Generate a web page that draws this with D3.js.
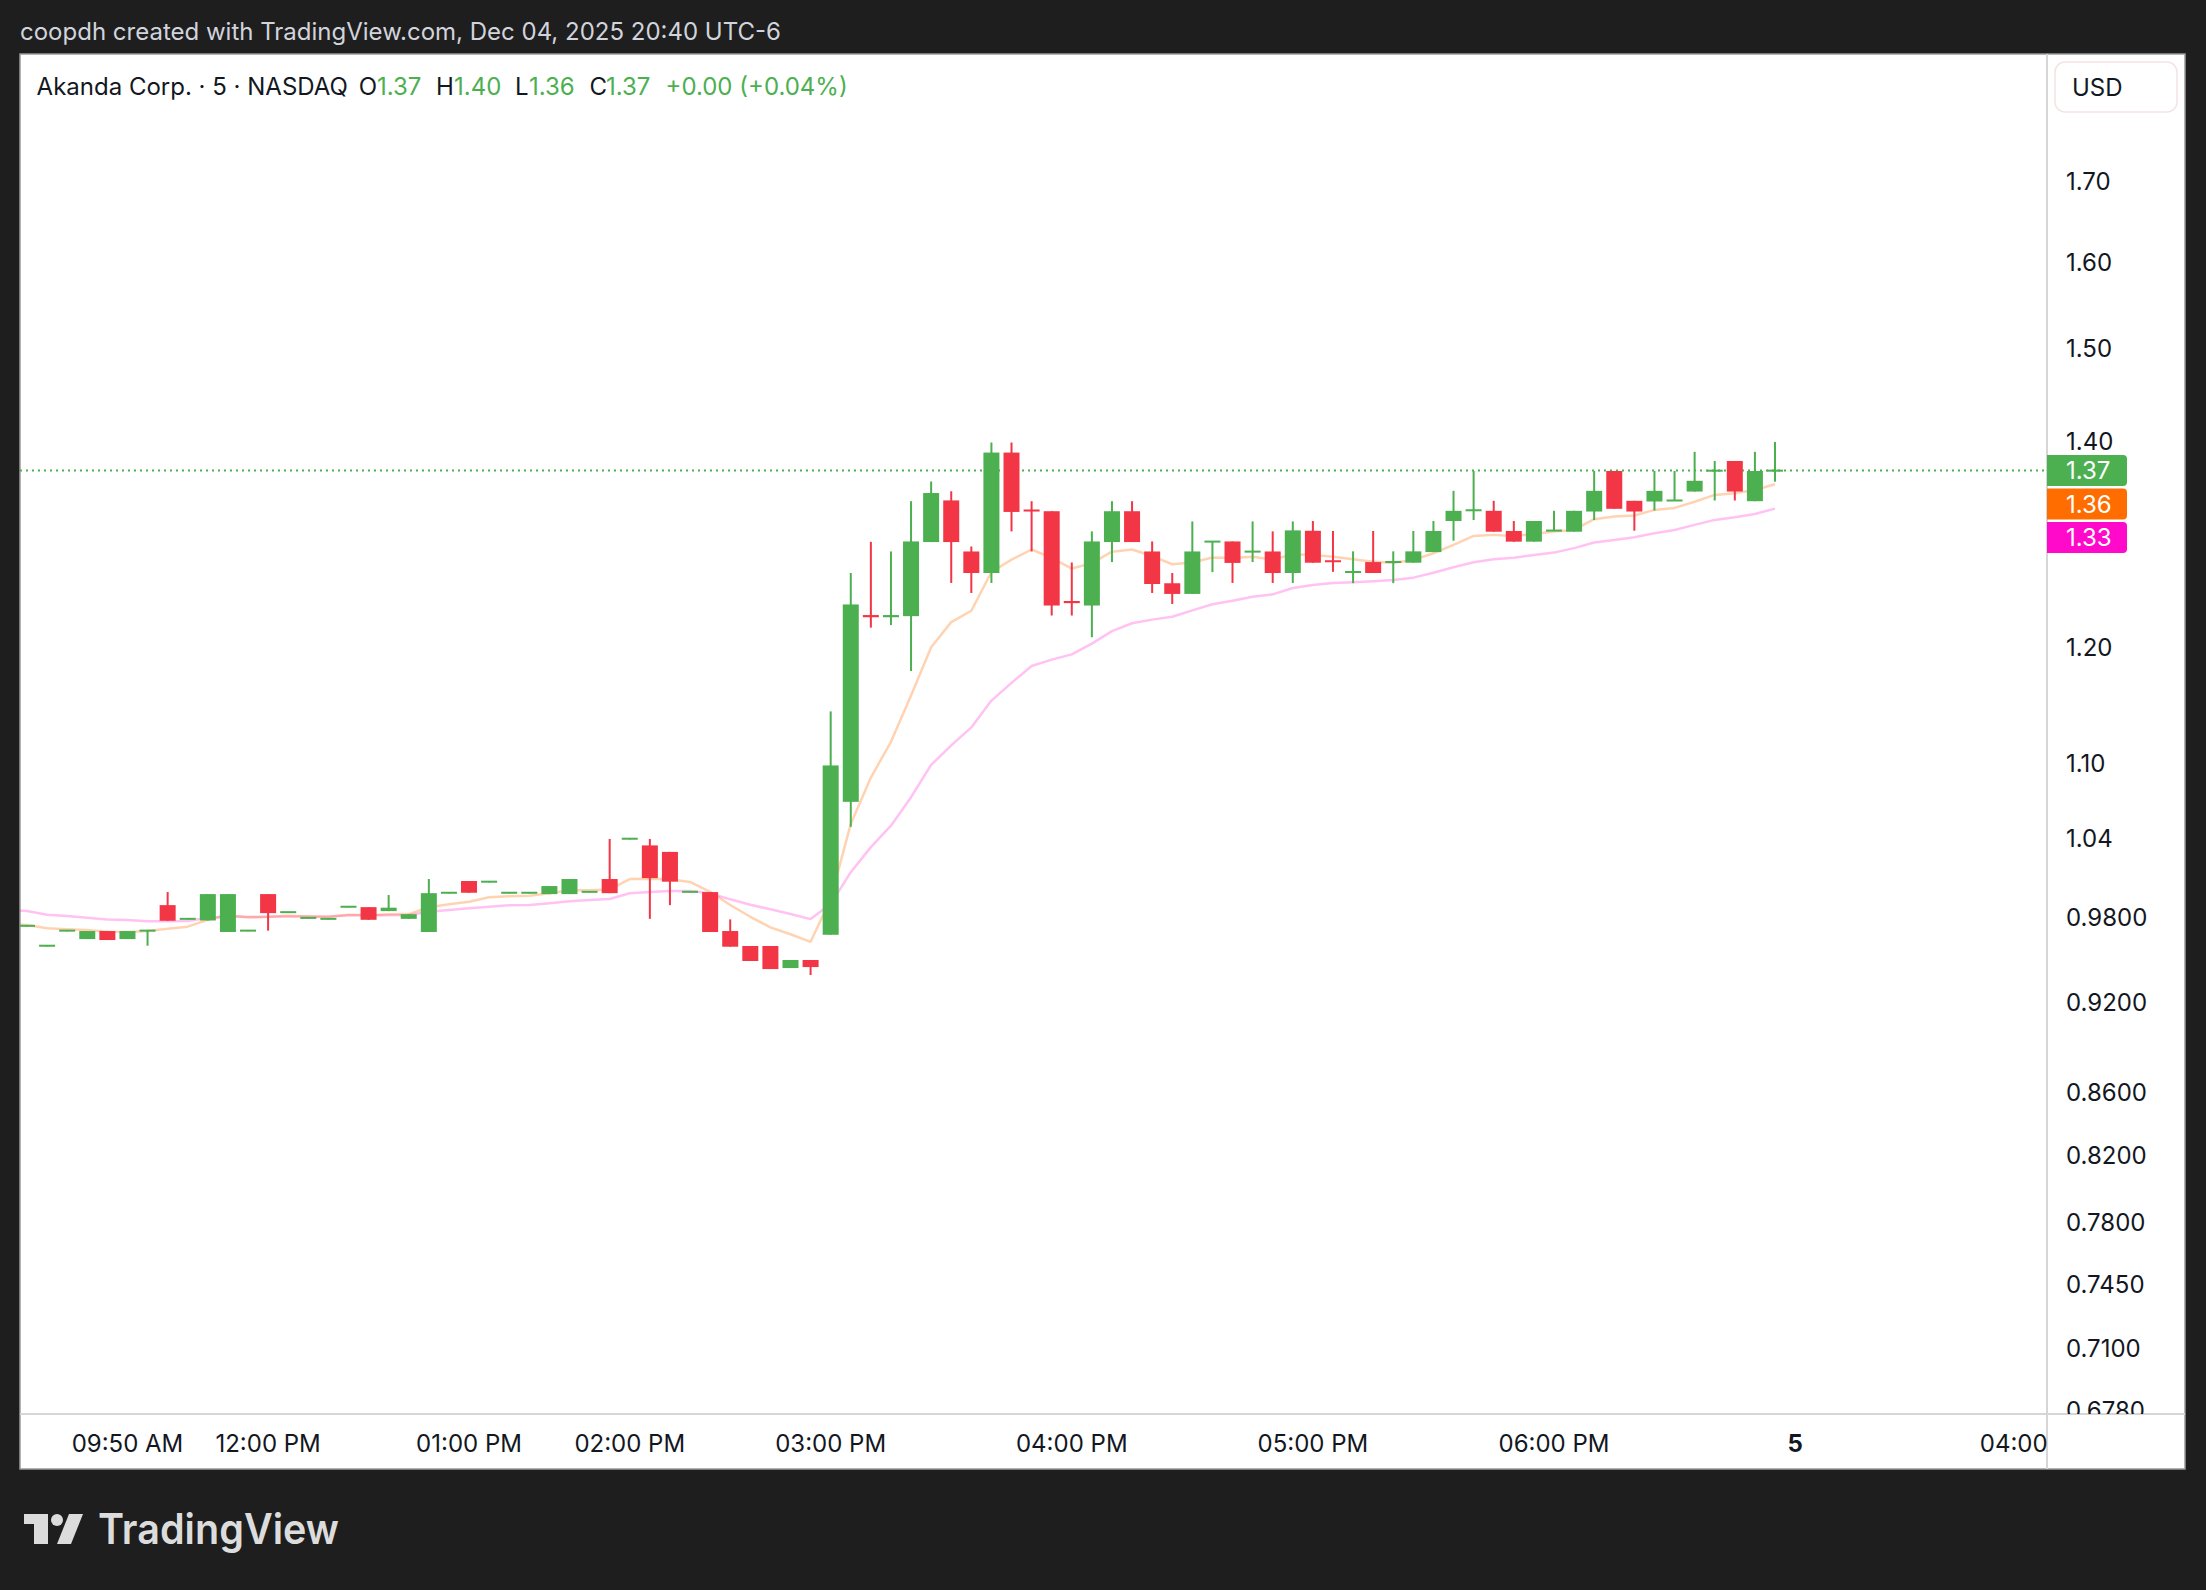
<!DOCTYPE html>
<html><head><meta charset="utf-8">
<script src="https://cdn.jsdelivr.net/npm/d3@7"></script>
<style>
html,body{margin:0;padding:0;background:#1e1e1e;}
svg{display:block;}
text{font-family:Inter,"Noto Sans",sans-serif;}
</style></head><body>
<svg id="chart" width="2206" height="1590"></svg>
<script>
// ---------- DATA ----------
const titleText = "coopdh created with TradingView.com, Dec 04, 2025 20:40 UTC-6";
const symbolText = "Akanda Corp. · 5 · NASDAQ";
const currency = "USD";

const opens = [.9738,.9594,.9703,.9644,.9702,.9644,.9703,.9892,.9789,.9779,
.9695,.9703,.9974,.9838,.9796,.9789,.9878,.9877,.9848,.9791,
.9695,.9982,1.0072,1.0065,.9982,.9982,.9974,.9974,.9989,1.0087,
1.0394,1.0344,1.0294,.9989,.9989,.9702,.9594,.9594,.9437,.9494,
.9675,1.0687,1.2290,1.2270,1.2280,1.2980,1.3391,1.2889,1.2683,1.3879,
1.3300,1.3283,1.2420,1.2378,1.2980,1.3283,1.2889,1.2586,1.2486,1.2983,
1.2986,1.2886,1.2889,1.2683,1.3090,1.2800,1.2690,1.2787,1.2785,1.2781,
1.2883,1.3186,1.3290,1.3287,1.3088,1.2984,1.3090,1.3081,1.3280,1.3689,
1.3387,1.3380,1.3388,1.3480,1.3690,1.3792,1.3383,1.3690];
const highs = [.9742,.9598,.9707,.9702,.9702,.9702,.9707,.9989,.9793,.9974,
.9974,.9707,.9974,.9842,.9800,.9793,.9882,.9877,.9967,.9825,
1.0087,.9986,1.0072,1.0069,.9986,.9986,1.0034,1.0087,.9993,1.0394,
1.0398,1.0394,1.0294,.9993,.9989,.9787,.9594,.9594,.9494,.9494,
1.1435,1.2683,1.2982,1.2889,1.3383,1.3582,1.3483,1.2937,1.3984,1.3984,
1.3383,1.3283,1.2783,1.3084,1.3383,1.3383,1.2986,1.2683,1.3182,1.2986,
1.2986,1.3182,1.3084,1.3182,1.3186,1.3088,1.2890,1.3088,1.2890,1.3088,
1.3186,1.3487,1.3689,1.3387,1.3186,1.3186,1.3287,1.3287,1.3689,1.3689,
1.3387,1.3689,1.3689,1.3887,1.3792,1.3792,1.3887,1.3990];
const lows = [.9738,.9594,.9703,.9644,.9637,.9644,.9596,.9777,.9789,.9779,
.9695,.9703,.9705,.9838,.9796,.9789,.9878,.9784,.9848,.9791,
.9695,.9982,.9984,1.0065,.9982,.9982,.9974,.9974,.9989,.9981,
1.0394,.9791,.9892,.9989,.9695,.9589,.9487,.9430,.9437,.9388,
.9675,1.0489,1.2175,1.2198,1.1786,1.2980,1.2589,1.2495,1.2589,1.3084,
1.2889,1.2286,1.2286,1.2088,1.2787,1.2980,1.2495,1.2392,1.2486,1.2691,
1.2589,1.2787,1.2589,1.2589,1.2781,1.2694,1.2587,1.2683,1.2587,1.2781,
1.2883,1.2993,1.3196,1.3081,1.2984,1.2984,1.3090,1.3081,1.3196,1.3307,
1.3091,1.3290,1.3388,1.3480,1.3390,1.3390,1.3383,1.3580];
const closes = [.9742,.9598,.9707,.9702,.9637,.9702,.9707,.9777,.9793,.9974,
.9974,.9707,.9833,.9842,.9800,.9793,.9882,.9784,.9873,.9825,
.9981,.9986,.9984,1.0069,.9986,.9986,1.0034,1.0087,.9993,.9981,
1.0398,1.0094,1.0067,.9993,.9695,.9589,.9487,.9430,.9494,.9444,
1.0982,1.2388,1.2270,1.2290,1.2986,1.3465,1.2980,1.2683,1.3879,1.3276,
1.3280,1.2378,1.2400,1.2986,1.3283,1.2980,1.2579,1.2486,1.2889,1.2986,
1.2779,1.2889,1.2683,1.3094,1.2781,1.2790,1.2695,1.2683,1.2790,1.2890,
1.3088,1.3287,1.3295,1.3081,1.2984,1.3186,1.3094,1.3287,1.3487,1.3307,
1.3280,1.3487,1.3392,1.3589,1.3694,1.3480,1.3689,1.3695];

// moving averages, first value belongs to the bar just left of the visible range (index -1)
const maFirstIndex = -1;
const emaFast = [0.9757, 0.9746,0.9722,0.9715,0.9710,0.9697,0.9695,0.9702,0.9719,0.9734,0.9784,
0.9817,0.9802,0.9806,0.9814,0.9809,0.9804,0.9821,0.9817,0.9824,0.9826,
0.9876,0.9898,0.9917,0.9950,0.9958,0.9962,0.9980,1.0002,1.0002,1.0009,
1.0087,1.0090,1.0085,1.0065,0.9991,0.9893,0.9806,0.9729,0.9679,0.9624,
0.9938,1.0512,1.0883,1.1178,1.1573,1.1998,1.2225,1.2330,1.2692,1.2811,
1.2908,1.2827,1.2725,1.2777,1.2887,1.2908,1.2845,1.2766,1.2783,1.2831,
1.2827,1.2838,1.2811,1.2861,1.2856,1.2839,1.2814,1.2791,1.2781,1.2807,
1.2872,1.2953,1.3040,1.3050,1.3040,1.3059,1.3082,1.3098,1.3204,1.3230,
1.3240,1.3296,1.3316,1.3378,1.3446,1.3463,1.3496,1.3554];
const emaSlow = [0.9856, 0.9849,0.9821,0.9812,0.9799,0.9787,0.9782,0.9773,0.9773,0.9775,0.9799,
0.9809,0.9804,0.9806,0.9809,0.9809,0.9809,0.9817,0.9817,0.9817,0.9819,
0.9843,0.9856,0.9869,0.9880,0.9891,0.9893,0.9906,0.9920,0.9930,0.9937,
0.9980,0.9989,0.9997,0.9997,0.9980,0.9935,0.9895,0.9861,0.9826,0.9789,
0.9900,1.0139,1.0331,1.0498,1.0724,1.0986,1.1148,1.1299,1.1528,1.1682,
1.1830,1.1887,1.1934,1.2030,1.2143,1.2215,1.2248,1.2274,1.2333,1.2390,
1.2423,1.2459,1.2482,1.2541,1.2570,1.2589,1.2596,1.2605,1.2617,1.2639,
1.2686,1.2738,1.2785,1.2814,1.2829,1.2856,1.2878,1.2921,1.2975,1.3001,
1.3027,1.3066,1.3098,1.3148,1.3197,1.3224,1.3256,1.3309];

const priceTicks = [1.70,1.60,1.50,1.40,1.20,1.10,1.04,0.98,0.92,0.86,0.82,0.78,0.745,0.71,0.678];
const priceTickLabels = ["1.70","1.60","1.50","1.40","1.20","1.10","1.04","0.9800","0.9200","0.8600","0.8200","0.7800","0.7450","0.7100","0.6780"];

const timeTickBars = [5,12,22,30,40,52,64,76,88,100];
const timeTickLabels = ["09:50 AM","12:00 PM","01:00 PM","02:00 PM","03:00 PM","04:00 PM","05:00 PM","06:00 PM","5","04:00 AM"];
const timeTickBold = [false,false,false,false,false,false,false,false,true,false];

// ---------- STYLE ----------
const UP = "#4caf50", DOWN = "#f23645";
const FAST_COLOR = "#ff6d00", SLOW_COLOR = "#ff0acb";
const TEXT = "#131722";

const W = 2206, H = 1590;
const pane = {left:20, right:2047, top:54, bottom:1414};
const panel = {left:20, right:2185, top:54, bottom:1469};

const svg = d3.select("#chart");
svg.append("rect").attr("width",W).attr("height",H).attr("fill","#1e1e1e");

svg.append("text").attr("x",20).attr("y",40).attr("fill","#d1d4dc")
  .attr("font-size",24).text(titleText);

svg.append("rect").attr("x",panel.left).attr("y",panel.top)
  .attr("width",panel.right-panel.left).attr("height",panel.bottom-panel.top)
  .attr("fill","#ffffff").attr("stroke","#9a9a9a").attr("stroke-width",1.5);

const n = closes.length;
const x = d3.scaleLinear().domain([0, n-1]).range([27, 1775]);
const y = d3.scaleLog().domain([1.8702, 0.67594]).range([pane.top, pane.bottom]);

const defs = svg.append("defs");
defs.append("clipPath").attr("id","paneClip").append("rect")
  .attr("x",pane.left).attr("y",pane.top).attr("width",pane.right-pane.left).attr("height",pane.bottom-pane.top);
defs.append("clipPath").attr("id","axisClip").append("rect")
  .attr("x",pane.right).attr("y",pane.top).attr("width",panel.right-pane.right).attr("height",pane.bottom-pane.top);
defs.append("clipPath").attr("id","timeClip").append("rect")
  .attr("x",pane.left).attr("y",pane.bottom).attr("width",pane.right-pane.left).attr("height",panel.bottom-pane.bottom);

const g = svg.append("g").attr("clip-path","url(#paneClip)");

const bars = d3.range(n).map(i => ({i, o:opens[i], h:highs[i], l:lows[i], c:closes[i]}));
const last = bars[n-1];

// last price dotted line
g.append("line").attr("x1",pane.left).attr("x2",pane.right)
  .attr("y1",y(last.c)).attr("y2",y(last.c))
  .attr("stroke",UP).attr("stroke-width",2).attr("stroke-dasharray","2,4");

// moving averages
const maLine = d3.line().x((d,k)=>x(k+maFirstIndex)).y(d=>y(d));
g.append("path").attr("d",maLine(emaSlow)).attr("fill","none")
  .attr("stroke",SLOW_COLOR).attr("stroke-opacity",0.25).attr("stroke-width",2.5).attr("stroke-linejoin","round");
g.append("path").attr("d",maLine(emaFast)).attr("fill","none")
  .attr("stroke",FAST_COLOR).attr("stroke-opacity",0.3).attr("stroke-width",2.5).attr("stroke-linejoin","round");

// candles
const cg = g.selectAll("g.candle").data(bars).enter().append("g");
cg.append("rect")
  .attr("x",d=>x(d.i)-1).attr("width",2)
  .attr("y",d=>y(d.h)).attr("height",d=>Math.max(1,y(d.l)-y(d.h)))
  .attr("fill",d=>d.c>=d.o?UP:DOWN);
cg.append("rect")
  .attr("x",d=>x(d.i)-8).attr("width",16)
  .attr("y",d=>{const t=y(Math.max(d.o,d.c)), b=y(Math.min(d.o,d.c)); return (b-t)<2 ? (t+b)/2-1 : t;})
  .attr("height",d=>Math.max(2, y(Math.min(d.o,d.c))-y(Math.max(d.o,d.c))))
  .attr("fill",d=>d.c>=d.o?UP:DOWN);

// axes lines
svg.append("line").attr("x1",panel.left).attr("x2",panel.right).attr("y1",pane.bottom).attr("y2",pane.bottom)
  .attr("stroke","#d6d6d6").attr("stroke-width",2);
svg.append("line").attr("x1",pane.right).attr("x2",pane.right).attr("y1",panel.top).attr("y2",panel.bottom)
  .attr("stroke","#d6d6d6").attr("stroke-width",2);

// price axis labels
const pa = svg.append("g").attr("clip-path","url(#axisClip)");
pa.selectAll("text.pt").data(priceTicks).enter().append("text")
  .attr("x",2066).attr("y",d=>y(d)).attr("dy","0.36em")
  .attr("font-size",24).attr("fill",TEXT)
  .text((d,k)=>priceTickLabels[k]);

// price labels (last close & MAs), stacked to avoid overlap
const tags = [
  {v:last.c, color:UP},
  {v:emaFast[emaFast.length-1], color:FAST_COLOR},
  {v:emaSlow[emaSlow.length-1], color:SLOW_COLOR}
];
tags.forEach(t=>t.cy=y(t.v));
tags.sort((a,b)=>a.cy-b.cy);
for(let k=1;k<tags.length;k++){ if(tags[k].cy < tags[k-1].cy+33.5) tags[k].cy = tags[k-1].cy+33.5; }
tags.forEach(t=>{
  const h=31, w=80, r=4, x0=pane.right, y0=t.cy-h/2;
  pa.append("path").attr("d",`M${x0},${y0} H${x0+w-r} Q${x0+w},${y0} ${x0+w},${y0+r} V${y0+h-r} Q${x0+w},${y0+h} ${x0+w-r},${y0+h} H${x0} Z`)
    .attr("fill",t.color);
  pa.append("text").attr("x",2066).attr("y",t.cy).attr("dy","0.36em")
    .attr("font-size",24).attr("fill","#ffffff").text(d3.format(".2f")(t.v));
});

// currency box
svg.append("rect").attr("x",2055).attr("y",62).attr("width",122).attr("height",50).attr("rx",10)
  .attr("fill","#ffffff").attr("stroke","#f3e3e3").attr("stroke-width",1.5);
svg.append("text").attr("x",2072).attr("y",96).attr("font-size",24).attr("fill",TEXT).text(currency);

// time axis labels
const ta = svg.append("g").attr("clip-path","url(#timeClip)");
ta.selectAll("text.tt").data(timeTickBars).enter().append("text")
  .attr("x",d=>x(d)).attr("y",1452).attr("text-anchor","middle")
  .attr("font-size",24).attr("fill",TEXT)
  .attr("font-weight",(d,k)=>timeTickBold[k]?700:400)
  .text((d,k)=>timeTickLabels[k]);

// legend
const fmt = d3.format(".2f");
const prevClose = closes[n-2];
const chg = last.c - prevClose;
const legendY = 95;
const legend = [
  {x:36.6, t:symbolText, c:TEXT},
  {x:358.8, t:"O", c:TEXT}, {x:377, t:fmt(last.o), c:UP},
  {x:436, t:"H", c:TEXT}, {x:454, t:fmt(last.h), c:UP},
  {x:515, t:"L", c:TEXT}, {x:529, t:fmt(last.l), c:UP},
  {x:589.5, t:"C", c:TEXT}, {x:606, t:fmt(last.c), c:UP},
  {x:665.5, t:(chg>=0?"+":"")+fmt(chg)+" ("+(chg>=0?"+":"")+fmt(chg/prevClose*100)+"%)", c:UP}
];
svg.selectAll("text.lg").data(legend).enter().append("text")
  .attr("x",d=>d.x).attr("y",legendY).attr("font-size",24).attr("fill",d=>d.c).text(d=>d.t);

// TradingView logo
const logo = svg.append("g").attr("fill","#dcdcdc");
logo.append("path").attr("d","M24,1514 H48 V1544 H34 V1524 H24 Z");
logo.append("circle").attr("cx",57).attr("cy",1520).attr("r",6);
logo.append("path").attr("d","M69,1514 H83 L71,1544 H57 Z");
logo.append("text").attr("x",98).attr("y",1544).attr("font-size",42).attr("font-weight",600)
  .attr("textLength",241).attr("lengthAdjust","spacingAndGlyphs").text("TradingView");
</script>
</body></html>
